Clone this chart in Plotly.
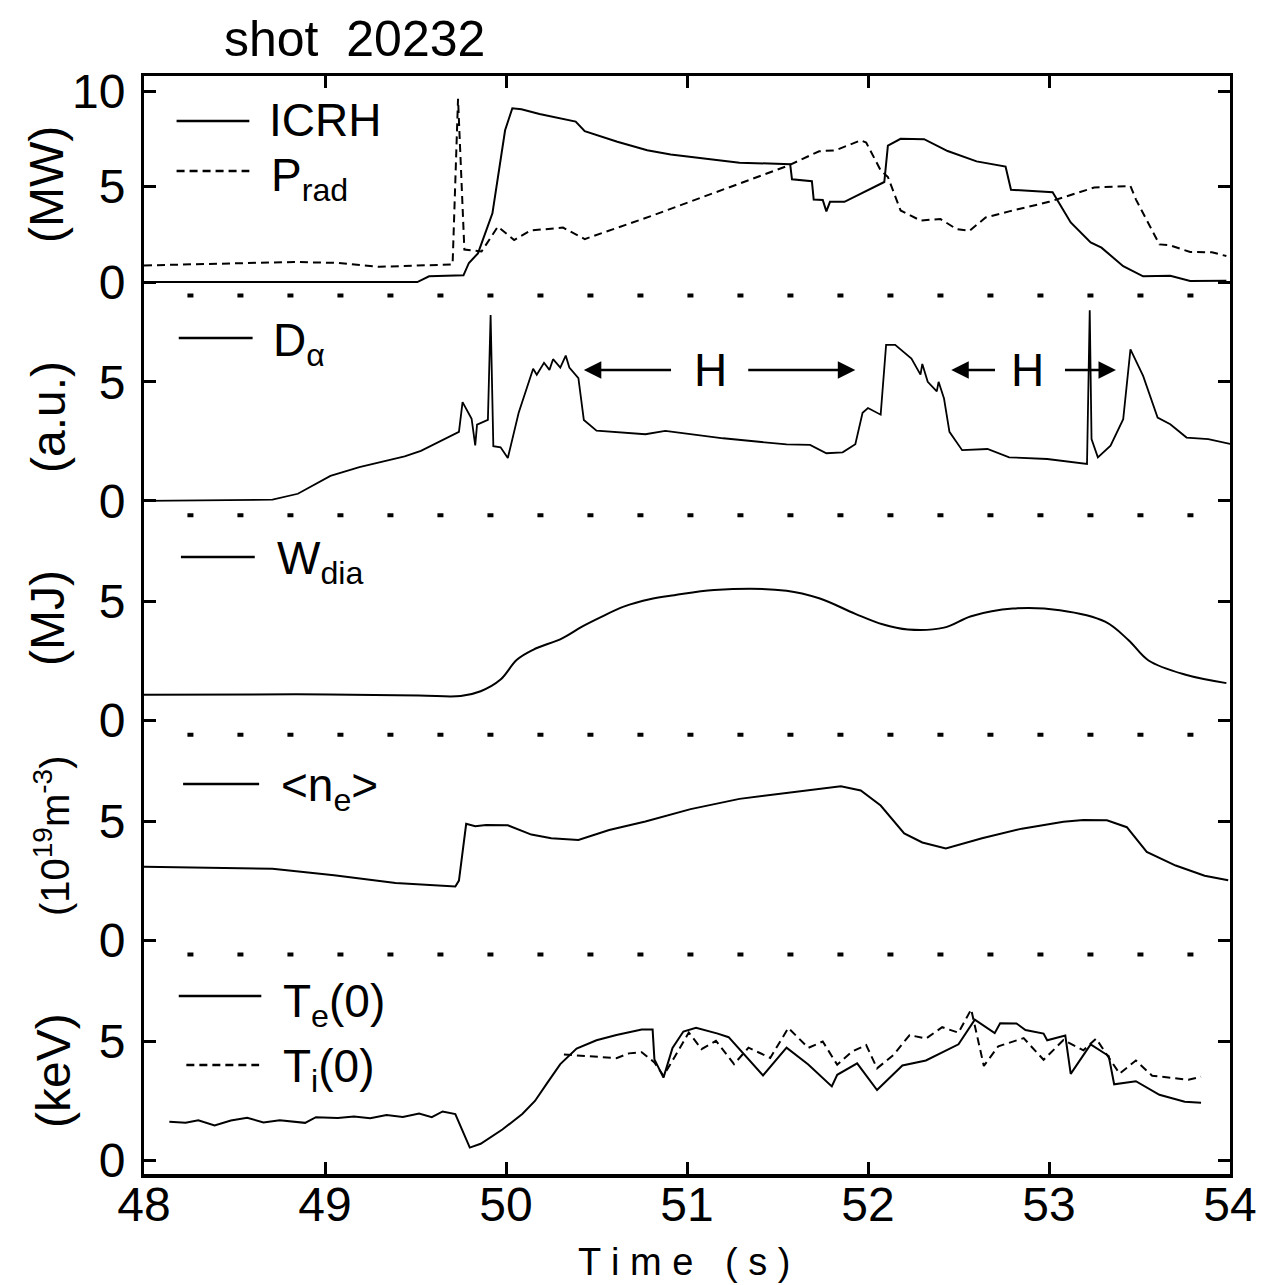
import plotly.graph_objects as go
from plotly.subplots import make_subplots

# ---- values, shot 20232 (time in s) ----
icrh_t = [48.0, 49.51, 49.575, 49.765, 49.795, 49.845, 49.925, 49.995, 50.035, 50.085, 50.185, 50.385,
          50.435, 50.615, 50.78, 50.91, 51.29, 51.57, 51.58, 51.69, 51.70, 51.75, 51.77, 51.79, 51.87,
          51.98, 52.09, 52.11, 52.18, 52.31, 52.44, 52.60, 52.76, 52.79, 53.02, 53.12, 53.23, 53.29,
          53.41, 53.52, 53.67, 53.78, 53.98]
icrh_mw = [0.0, 0.0, 0.3, 0.35, 1.0, 1.5, 3.6, 7.95, 9.1, 9.05, 8.8, 8.4,
           7.9, 7.35, 6.9, 6.68, 6.25, 6.17, 5.38, 5.28, 4.32, 4.3, 3.7, 4.2, 4.2,
           4.73, 5.24, 7.15, 7.5, 7.48, 6.86, 6.32, 6.05, 4.83, 4.7, 3.12, 2.07, 1.8,
           0.83, 0.3, 0.33, 0.06, 0.07]

prad_t = [48.0, 48.83, 49.07, 49.3, 49.705, 49.735, 49.77, 49.865, 49.955, 50.045, 50.135, 50.315,
          50.435, 50.8, 51.56, 51.62, 51.73, 51.82, 51.96, 51.99, 52.07, 52.11, 52.18, 52.29, 52.40,
          52.49, 52.56, 52.65, 52.78, 53.0, 53.25, 53.45, 53.48, 53.61, 53.67, 53.78, 53.90, 53.98]
prad_mw = [0.87, 1.05, 1.0, 0.8, 0.92, 9.6, 1.7, 1.6, 2.9, 2.2, 2.7, 2.85,
           2.25, 3.45, 6.1, 6.35, 6.85, 6.9, 7.42, 7.3, 5.85, 5.5, 3.75, 3.22, 3.3,
           2.77, 2.68, 3.38, 3.7, 4.2, 4.95, 5.03, 4.33, 1.97, 1.92, 1.57, 1.56, 1.36]

dalpha_t = [48.0, 48.71, 48.85, 49.03, 49.19, 49.44, 49.53, 49.66, 49.74, 49.76, 49.81, 49.83, 49.84,
            49.9, 49.915, 49.93, 49.97, 50.01, 50.07, 50.15, 50.17, 50.21, 50.24, 50.26, 50.30, 50.33,
            50.35, 50.40, 50.43, 50.5, 50.66, 50.77, 50.88, 51.2, 51.55, 51.68, 51.77, 51.86, 51.93,
            51.97, 52.0, 52.07, 52.1, 52.15, 52.24, 52.29, 52.30, 52.33, 52.38, 52.39, 52.42, 52.45,
            52.52, 52.66, 52.78, 52.99, 53.21, 53.225, 53.235, 53.27, 53.34, 53.41, 53.45, 53.52,
            53.6, 53.67, 53.76, 53.88, 54.0]
dalpha_au = [0.0, 0.05, 0.3, 1.05, 1.42, 1.87, 2.1, 2.6, 2.9, 4.15, 3.45, 2.33, 3.2,
             3.4, 7.8, 2.3, 2.25, 1.8, 3.7, 5.55, 5.3, 5.8, 5.5, 5.95, 5.6, 6.1,
             5.6, 5.15, 3.4, 2.95, 2.85, 2.8, 2.94, 2.63, 2.37, 2.35, 2.0, 2.04, 2.38,
             3.7, 3.9, 3.62, 6.55, 6.55, 5.98, 5.3, 5.75, 5.0, 4.6, 5.0, 4.3, 2.9,
             2.13, 2.18, 1.83, 1.76, 1.55, 8.0, 2.6, 1.83, 2.32, 3.43, 6.36, 5.25,
             3.5, 3.22, 2.66, 2.59, 2.39]

wdia_t = [48.0, 48.84, 49.52, 49.75, 49.86, 49.97, 50.06, 50.15, 50.31, 50.42, 50.53, 50.65, 50.8,
          50.93, 51.15, 51.55, 51.73, 51.93, 52.08, 52.22, 52.42, 52.57, 52.8, 53.06, 53.31, 53.44,
          53.55, 53.75, 53.98]
wdia_mj = [1.08, 1.1, 1.05, 1.03, 1.23, 1.72, 2.55, 2.97, 3.45, 3.94, 4.36, 4.78, 5.1,
           5.26, 5.48, 5.45, 5.13, 4.48, 4.04, 3.82, 3.9, 4.38, 4.7, 4.63, 4.15, 3.37,
           2.52, 1.93, 1.57]

ne_t = [48.0, 48.71, 49.05, 49.21, 49.39, 49.72, 49.74, 49.78, 49.83, 49.89, 50.01, 50.14, 50.25,
        50.4, 50.57, 50.77, 51.02, 51.29, 51.56, 51.69, 51.85, 51.96, 52.07, 52.2, 52.3, 52.43,
        52.63, 52.85, 53.08, 53.19, 53.32, 53.43, 53.54, 53.7, 53.86, 53.99]
ne_1e19 = [3.08, 3.0, 2.72, 2.56, 2.4, 2.25, 2.5, 4.88, 4.78, 4.83, 4.82, 4.43, 4.28,
           4.2, 4.62, 4.98, 5.5, 5.93, 6.2, 6.33, 6.46, 6.28, 5.65, 4.48, 4.1, 3.85,
           4.28, 4.68, 4.97, 5.04, 5.03, 4.74, 3.7, 3.13, 2.7, 2.51]

te_t = [48.14, 48.23, 48.3, 48.39, 48.48, 48.57, 48.66, 48.75, 48.89, 48.95, 49.07, 49.16, 49.25,
        49.34, 49.43, 49.52, 49.59, 49.65, 49.72, 49.8, 49.86, 49.98, 50.09, 50.16, 50.23, 50.3,
        50.39, 50.5, 50.61, 50.75, 50.81, 50.82, 50.87, 50.92, 50.98, 51.05, 51.17, 51.23, 51.42,
        51.55, 51.67, 51.8, 51.83, 51.94, 52.05, 52.19, 52.32, 52.5, 52.59, 52.7, 52.73, 52.82,
        52.87, 52.97, 52.99, 53.09, 53.12, 53.23, 53.33, 53.36, 53.48, 53.61, 53.75, 53.84]
te_kev = [1.63, 1.58, 1.69, 1.47, 1.68, 1.79, 1.6, 1.69, 1.58, 1.82, 1.78, 1.85, 1.77,
          1.91, 1.83, 1.97, 1.82, 2.06, 1.95, 0.54, 0.7, 1.3, 1.95, 2.5, 3.28, 4.05,
          4.7, 5.05, 5.27, 5.5, 5.5, 4.25, 3.48, 4.73, 5.42, 5.58, 5.33, 5.18, 3.57,
          4.74, 4.03, 3.11, 3.6, 4.08, 2.96, 3.99, 4.2, 4.88, 5.92, 5.35, 5.77, 5.76,
          5.48, 5.33, 5.05, 5.25, 3.64, 4.88, 4.39, 3.2, 3.33, 2.76, 2.47, 2.42]

ti_t = [50.32, 50.45, 50.61, 50.68, 50.75, 50.82, 50.87, 50.93, 51.01, 51.08, 51.16, 51.26, 51.34,
        51.46, 51.56, 51.67, 51.75, 51.83, 51.91, 51.99, 52.05, 52.14, 52.23, 52.32, 52.41, 52.5,
        52.57, 52.64, 52.72, 52.86, 52.97, 53.08, 53.19, 53.26, 53.39, 53.48, 53.57, 53.68, 53.77,
        53.84]
ti_kev = [4.45, 4.37, 4.3, 4.5, 4.55, 4.12, 3.56, 4.33, 5.38, 4.68, 5.03, 4.05, 4.74,
          4.31, 5.57, 4.73, 5.0, 4.02, 4.57, 4.85, 3.87, 4.43, 5.27, 5.12, 5.6, 5.37,
          6.35, 3.97, 4.8, 5.14, 4.23, 5.06, 4.63, 5.12, 3.65, 4.2, 3.56, 3.47, 3.39,
          3.52]

# H-mode arrows in the D_alpha panel: (arrow head, arrow tail) and H label position
h_arrows = [(50.43, 50.92), (51.93, 51.33), (52.46, 52.71), (53.37, 53.08)]
h_labels = [51.13, 52.88]
h_level = 5.5

time_ticks = [48, 49, 50, 51, 52, 53, 54]
panel_units = ["(MW)", "(a.u.)", "(MJ)", "(10<sup>19</sup>m<sup>-3</sup>)", "(keV)"]

FONT = "Liberation Sans, Arial, sans-serif"
NARROW = "Liberation Sans Narrow, Liberation Sans, Arial, sans-serif"
DASH = "8px,5px"

fig = make_subplots(rows=5, cols=1, shared_xaxes=True, vertical_spacing=0)

solid = dict(color="black", width=2)
dashed = dict(color="black", width=2, dash=DASH)
fig.add_trace(go.Scatter(x=icrh_t, y=icrh_mw, mode="lines", line=solid), row=1, col=1)
fig.add_trace(go.Scatter(x=prad_t, y=prad_mw, mode="lines", line=dashed), row=1, col=1)
fig.add_trace(go.Scatter(x=dalpha_t, y=dalpha_au, mode="lines", line=dict(color="black", width=1.8)), row=2, col=1)
fig.add_trace(go.Scatter(x=wdia_t, y=wdia_mj, mode="lines", line=solid, line_shape="spline"), row=3, col=1)
fig.add_trace(go.Scatter(x=ne_t, y=ne_1e19, mode="lines", line=solid), row=4, col=1)
fig.add_trace(go.Scatter(x=te_t, y=te_kev, mode="lines", line=solid), row=5, col=1)
fig.add_trace(go.Scatter(x=ti_t, y=ti_kev, mode="lines", line=dashed), row=5, col=1)

# y axes: solid left/right frame, inward ticks on both sides
ranges = [[-0.71, 10.79], [-0.6, 8.62], [-0.6, 8.62], [-0.6, 8.62], [-0.57, 8.66]]
for i in range(5):
    fig.update_yaxes(
        row=i + 1, col=1, range=ranges[i],
        tickvals=[0, 5, 10] if i == 0 else [0, 5],
        showline=True, linecolor="black", linewidth=3, mirror="ticks",
        ticks="inside", ticklen=12, tickwidth=3, tickcolor="black",
        showgrid=False, zeroline=False, ticklabelstandoff=6,
        tickfont=dict(family=NARROW, size=48, color="black"),
    )

common_x = dict(range=[48, 54], tickvals=time_ticks, showgrid=False, zeroline=False)
fig.update_xaxes(**common_x)
fig.update_xaxes(row=1, col=1, side="top", showline=True, linecolor="black", linewidth=3,
                 ticks="inside", ticklen=12, tickwidth=3, tickcolor="black", showticklabels=False)
for r in (2, 3, 4):
    fig.update_xaxes(row=r, col=1, showline=False, ticks="", showticklabels=False)
fig.update_xaxes(row=5, col=1, showline=True, linecolor="black", linewidth=3.5,
                 ticks="inside", ticklen=12, tickwidth=3, tickcolor="black",
                 showticklabels=True, ticktext=[str(v) for v in time_ticks],
                 ticklabelstandoff=-14, tickfont=dict(family=FONT, size=48, color="black"))

shapes = []
# dotted separators between panels
for k in range(1, 5):
    shapes.append(dict(type="line", xref="paper", yref="paper", x0=0.040, x1=1.0, y0=k / 5, y1=k / 5,
                       line=dict(color="black", width=4, dash="6px,44px")))

# legend line samples (paper coords)
legend_lines = [
    (0.030, 0.097, 0.9590, None),
    (0.030, 0.097, 0.9135, DASH),
    (0.032, 0.100, 0.7614, None),
    (0.034, 0.102, 0.5619, None),
    (0.036, 0.106, 0.3552, None),
    (0.032, 0.108, 0.1621, None),
    (0.039, 0.106, 0.0993, DASH),
]
for x0, x1, y, dash in legend_lines:
    ln = dict(color="black", width=2.5)
    if dash:
        ln["dash"] = dash
    shapes.append(dict(type="line", xref="paper", yref="paper", x0=x0, x1=x1, y0=y, y1=y, line=ln))

annotations = []
legend_texts = [
    ("ICRH", 0.1133, 0.9599),
    ("P<sub>rad</sub>", 0.1151, 0.9071),
    ("D<sub>α</sub>", 0.1169, 0.7568),
    ("W<sub>dia</sub>", 0.1206, 0.5574),
    ("&lt;n<sub>e</sub>&gt;", 0.1243, 0.3515),
    ("T<sub>e</sub>(0)", 0.1262, 0.1548),
    ("T<sub>i</sub>(0)", 0.1262, 0.0956),
]
for txt, x, y in legend_texts:
    annotations.append(dict(text=txt, x=x, y=y, xref="paper", yref="paper", xanchor="left",
                            yanchor="middle", showarrow=False,
                            font=dict(family=FONT, size=46, color="black")))

# unit titles, rotated
unit_pos = [(-0.0902, 0.9007, 48), (-0.0884, 0.6894, 48), (-0.0884, 0.5064, 48),
            (-0.0847, 0.3078, 40), (-0.0838, 0.0947, 48)]
for txt, (x, y, fs) in zip(panel_units, unit_pos):
    annotations.append(dict(text=txt, x=x, y=y, xref="paper", yref="paper", textangle=-90,
                            xanchor="center", yanchor="middle", showarrow=False,
                            font=dict(family=FONT, size=fs, color="black")))

# H-mode arrows
for head, tail in h_arrows:
    annotations.append(dict(x=head, y=h_level, ax=tail, ay=h_level, xref="x2", yref="y2",
                            axref="x2", ayref="y2", text="", showarrow=True, arrowhead=2,
                            arrowsize=1.4, arrowwidth=2.5, arrowcolor="black"))
for xh in h_labels:
    annotations.append(dict(text="H", x=xh, y=h_level, xref="x2", yref="y2", showarrow=False,
                            xanchor="center", yanchor="middle",
                            font=dict(family=FONT, size=46, color="black")))

annotations.append(dict(text="shot\u00a0\u00a020232", x=0.194, y=1.034, xref="paper", yref="paper",
                        showarrow=False, xanchor="center", yanchor="middle",
                        font=dict(family=FONT, size=50, color="black")))
annotations.append(dict(text="T i m e\u00a0\u00a0\u00a0( s )", x=0.498, y=-0.080, xref="paper",
                        yref="paper", showarrow=False, xanchor="center", yanchor="middle",
                        font=dict(family=FONT, size=38, color="black")))

fig.update_layout(
    width=1268, height=1285, autosize=False,
    margin=dict(l=136, r=46, t=68, b=119),
    paper_bgcolor="white", plot_bgcolor="white",
    showlegend=False,
    shapes=shapes, annotations=annotations,
    font=dict(family=FONT, color="black"),
)

fig.write_html("out.html")
